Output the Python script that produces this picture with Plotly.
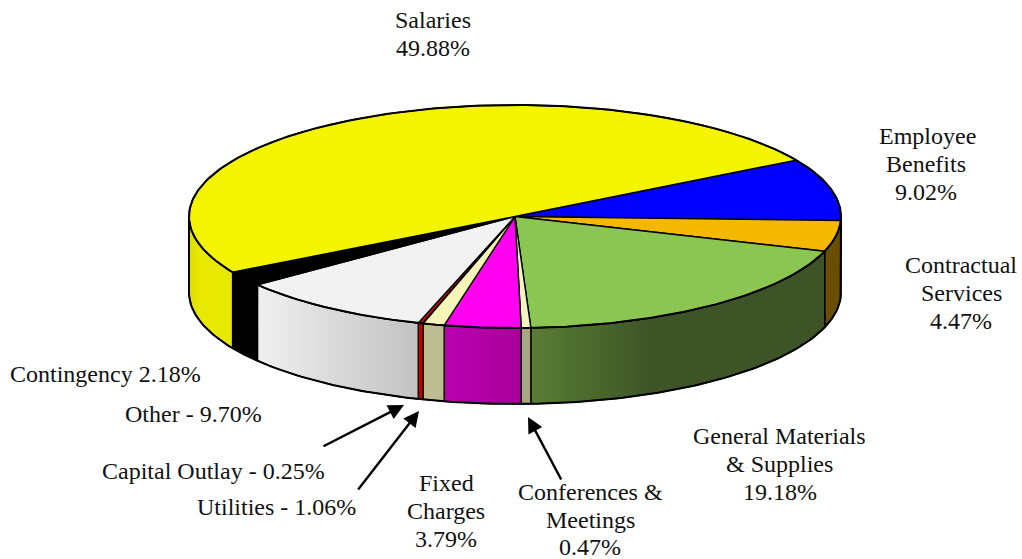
import numpy as np
import plotly.graph_objects as go

# ---- data (clockwise from Employee Benefits) ----
categories = ["Employee Benefits", "Contractual Services", "General Materials & Supplies",
              "Conferences & Meetings", "Fixed Charges", "Utilities", "Capital Outlay",
              "Other", "Contingency", "Salaries"]
shares = [9.02, 4.47, 19.18, 0.47, 3.79, 1.06, 0.25, 9.70, 2.18, 49.88]
top_colors = ["#0000FF", "#F5B800", "#8BC653", "#F5F5BE", "#FF00F0", "#F5F5B8", "#E00000",
              "#F2F2F2", "#000000", "#F4F400"]
side_colors = [
    [(0, "#00008C"), (1, "#00008C")],
    [(0, "#6A4E00"), (1, "#6A4E00")],
    [(0, "#5A7D35"), (0.42, "#3D5426"), (1, "#3D5426")],
    [(0, "#A6A682"), (1, "#A6A682")],
    [(0, "#BA00B2"), (1, "#A80098")],
    [(0, "#BDBD90"), (1, "#BDBD90")],
    [(0, "#C00000"), (1, "#C00000")],
    [(0, "#F0F0F0"), (1, "#C2C2C2")],
    [(0, "#000000"), (1, "#000000")],
    [(0, "#DCDC00"), (0.25, "#E8E800"), (1, "#E8E800")],
]
label_lines = ["Salaries", "49.88%", "Employee", "Benefits", "9.02%", "Contractual", "Services", "4.47%",
               "General Materials", "& Supplies", "19.18%", "Conferences &", "Meetings", "0.47%",
               "Fixed", "Charges", "3.79%", "Utilities - 1.06%", "Capital Outlay - 0.25%",
               "Other - 9.70%", "Contingency 2.18%"]
label_x = [433, 433, 927, 926, 926, 961, 961, 961, 779, 779, 780, 590, 590, 590,
           446, 446, 446, 276.5, 213.5, 193, 105.5]
label_y = [20, 48, 136, 164, 192, 265, 293, 321, 436, 464, 492, 492, 520, 547,
           483, 511, 539, 507, 471, 414, 374]
arrow_tails = [(322, 447), (357, 491), (562, 481)]
arrow_heads = [(404, 405), (419, 411), (528, 417)]

# ---- projection of the disc onto the page ----
CX, CY, RX, RY, DEPTH = 515.0, 216.5, 326.0, 111.5, 76.0
START = 30.4


def rim(t, drop=0.0):
    r = np.radians(t)
    return CX + RX * np.cos(r), CY - RY * np.sin(r) + drop


fig = go.Figure()
angles = START - np.concatenate([[0], np.cumsum(shares)]) * 3.6

# side walls (only the front half, -180..0 deg, is visible)
for i in range(len(shares)):
    a0, a1 = angles[i], angles[i + 1]
    hi, lo = min(a0, 0.0), max(a1, -180.0)
    if hi <= lo:
        continue
    t = np.linspace(hi, lo, 80)
    xt, yt = rim(t)
    xb, yb = rim(t[::-1], DEPTH)
    x = np.r_[xt, xb, xt[0]]
    y = np.r_[yt, yb, yt[0]]
    fig.add_trace(go.Scatter(
        x=x, y=y, mode="lines", fill="toself",
        line=dict(color="#000000", width=1.4),
        fillgradient=dict(type="horizontal", colorscale=side_colors[i]),
        hoverinfo="skip", showlegend=False, name=categories[i]))

# top wedges
for i in range(len(shares)):
    t = np.linspace(angles[i], angles[i + 1], max(int(shares[i] * 6), 8))
    xt, yt = rim(t)
    x = np.r_[CX, xt, CX]
    y = np.r_[CY, yt, CY]
    fig.add_trace(go.Scatter(
        x=x, y=y, mode="lines", fill="toself", fillcolor=top_colors[i],
        line=dict(color="#000000", width=1.4),
        hoverinfo="skip", showlegend=False, name=categories[i]))

# heavier outline: top rim, front base, vertical ends
t = np.linspace(0, 360, 361)
xt, yt = rim(t)
fig.add_trace(go.Scatter(x=xt, y=yt, mode="lines", line=dict(color="#000000", width=2),
                         hoverinfo="skip", showlegend=False))
t = np.linspace(0, -180, 181)
xb, yb = rim(t, DEPTH)
x0, y0 = rim(0.0)
x1, y1 = rim(-180.0)
fig.add_trace(go.Scatter(x=np.r_[x0, xb, x1], y=np.r_[y0, yb, y1], mode="lines",
                         line=dict(color="#000000", width=2),
                         hoverinfo="skip", showlegend=False))

ann = [dict(x=x, y=y, text=s, showarrow=False, xanchor="center", yanchor="middle",
            font=dict(family="Liberation Serif", size=24, color="#111111"))
       for s, x, y in zip(label_lines, label_x, label_y)]
for (tx, ty), (hx, hy) in zip(arrow_tails, arrow_heads):
    ann.append(dict(x=hx, y=hy, ax=tx, ay=ty, xref="x", yref="y", axref="x", ayref="y",
                    text="", showarrow=True, arrowhead=2, arrowsize=1.3, arrowwidth=2.4,
                    arrowcolor="#000000"))

fig.update_layout(
    width=1022, height=559, autosize=False,
    margin=dict(l=0, r=0, t=0, b=0),
    paper_bgcolor="#FFFFFF", plot_bgcolor="#FFFFFF",
    xaxis=dict(range=[0, 1022], visible=False, fixedrange=True),
    yaxis=dict(range=[559, 0], visible=False, fixedrange=True),
    annotations=ann, showlegend=False)

fig.write_html("out.html", config={"displayModeBar": False},
               post_script="document.body.style.margin='0';document.body.style.overflow='hidden';")
